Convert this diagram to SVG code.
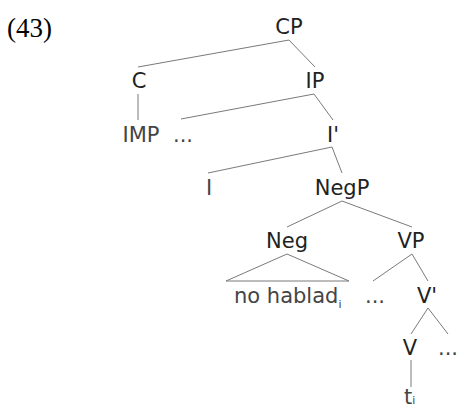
<svg xmlns="http://www.w3.org/2000/svg" width="459" height="407" viewBox="0 0 459 407">
<style>
.t{font-family:"DejaVu Sans",sans-serif;font-size:21px;fill:#222;text-anchor:middle}
.w{fill:#444}
.s{font-size:11px;fill:#444}
.n{font-family:"Liberation Serif",serif;font-size:27px;fill:#000}
#edges line,#edges polyline{stroke:#7a7a7a;stroke-width:1;fill:none}
</style>
<rect width="459" height="407" fill="#fff"/>
<text class="n" x="7" y="37">(43)</text>
<g id="edges">
<line x1="289" y1="40" x2="138" y2="67"/>
<line x1="289" y1="40" x2="315" y2="67"/>
<line x1="138" y1="94" x2="138" y2="120"/>
<line x1="314" y1="94" x2="181" y2="119"/>
<line x1="314" y1="94" x2="333" y2="120"/>
<line x1="332" y1="147" x2="208" y2="173"/>
<line x1="332" y1="147" x2="342" y2="173"/>
<line x1="342" y1="201" x2="287" y2="227"/>
<line x1="342" y1="201" x2="412" y2="227"/>
<polyline points="226,281 287,254 349,281 226,281"/>
<line x1="412" y1="254" x2="373" y2="281"/>
<line x1="412" y1="254" x2="428" y2="281"/>
<line x1="428" y1="308" x2="411" y2="334"/>
<line x1="428" y1="308" x2="448" y2="334"/>
<line x1="411" y1="360" x2="411" y2="387"/>
</g>
<g id="CP"><text class="t" x="289" y="34">CP</text></g>
<g id="C"><text class="t" x="139" y="88">C</text></g>
<g id="IP"><text class="t" x="315" y="88">IP</text></g>
<g id="IMP"><text class="t w" x="141" y="142">IMP</text></g>
<g id="dots1"><text class="t w" x="183" y="142">...</text></g>
<g id="Ibar"><text class="t" x="333" y="142">I'</text></g>
<g id="I"><text class="t w" x="209" y="195">I</text></g>
<g id="NegP"><text class="t" x="342" y="195">NegP</text></g>
<g id="Neg"><text class="t" x="287" y="248">Neg</text></g>
<g id="VP"><text class="t" x="411" y="248">VP</text></g>
<g id="nohablad"><text class="t w" x="234" y="303" style="text-anchor:start">no hablad<tspan class="s" dy="5">i</tspan></text></g>
<g id="dots2"><text class="t w" x="375" y="303">...</text></g>
<g id="Vbar"><text class="t" x="427" y="303">V'</text></g>
<g id="V"><text class="t" x="410" y="355">V</text></g>
<g id="dots3"><text class="t w" x="448" y="355">...</text></g>
<g id="trace"><text class="t w" x="404" y="404" style="text-anchor:start">t<tspan class="s" font-size="9" dy="0">i</tspan></text></g>
</svg>
